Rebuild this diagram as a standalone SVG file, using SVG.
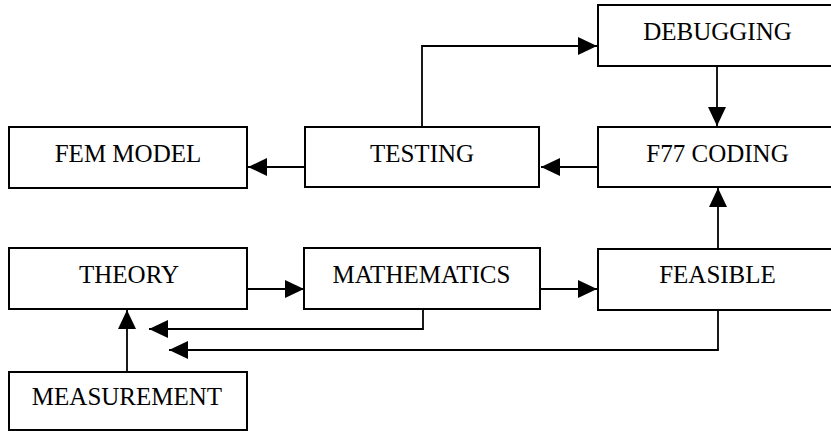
<svg xmlns="http://www.w3.org/2000/svg" width="831" height="431" viewBox="0 0 831 431">
<style>
.box{fill:#fff;stroke:#000;stroke-width:2}
.lbl{font-family:"Liberation Serif","Times New Roman",serif;font-size:25px;fill:#000;text-anchor:middle}
.con{fill:none;stroke:#000;stroke-width:1.8}
</style>
<defs>
<marker id="ah" markerUnits="userSpaceOnUse" markerWidth="20" markerHeight="18" refX="19" refY="9" orient="auto">
<path d="M0,0 L19,9 L0,18 Z" fill="#000"/>
</marker>
</defs>
<rect width="831" height="431" fill="#fff"/>
<g id="connectors">
<path class="con" d="M598,167 L541,167" marker-end="url(#ah)"/>
<path class="con" d="M305,167 L248,167" marker-end="url(#ah)"/>
<path class="con" d="M422,127 L422,46 L597,46" marker-end="url(#ah)"/>
<path class="con" d="M717,66 L717,126" marker-end="url(#ah)"/>
<path class="con" d="M718,249 L718,188" marker-end="url(#ah)"/>
<path class="con" d="M247,289 L304,289" marker-end="url(#ah)"/>
<path class="con" d="M540,289 L597,289" marker-end="url(#ah)"/>
<path class="con" d="M423,309 L423,329 L149,329" marker-end="url(#ah)"/>
<path class="con" d="M718,310 L718,350 L169,350" marker-end="url(#ah)"/>
<path class="con" d="M127,372 L127,310" marker-end="url(#ah)"/>
</g>
<g id="debugging"><rect class="box" x="598" y="5" width="240" height="61"/><text class="lbl" x="717.5" y="40">DEBUGGING</text></g>
<g id="fem-model"><rect class="box" x="9" y="127" width="238" height="61"/><text class="lbl" x="128" y="162">FEM MODEL</text></g>
<g id="testing"><rect class="box" x="305" y="127" width="234" height="60"/><text class="lbl" x="422" y="162">TESTING</text></g>
<g id="f77-coding"><rect class="box" x="598" y="127" width="240" height="60"/><text class="lbl" x="717.5" y="162">F77 CODING</text></g>
<g id="theory"><rect class="box" x="9" y="248" width="238" height="61"/><text class="lbl" x="129" y="283">THEORY</text></g>
<g id="mathematics"><rect class="box" x="304" y="248" width="236" height="61"/><text class="lbl" x="421.5" y="283">MATHEMATICS</text></g>
<g id="feasible"><rect class="box" x="598" y="249" width="240" height="61"/><text class="lbl" x="717.5" y="283">FEASIBLE</text></g>
<g id="measurement"><rect class="box" x="9" y="372" width="238" height="58"/><text class="lbl" x="127" y="405">MEASUREMENT</text></g>
</svg>
